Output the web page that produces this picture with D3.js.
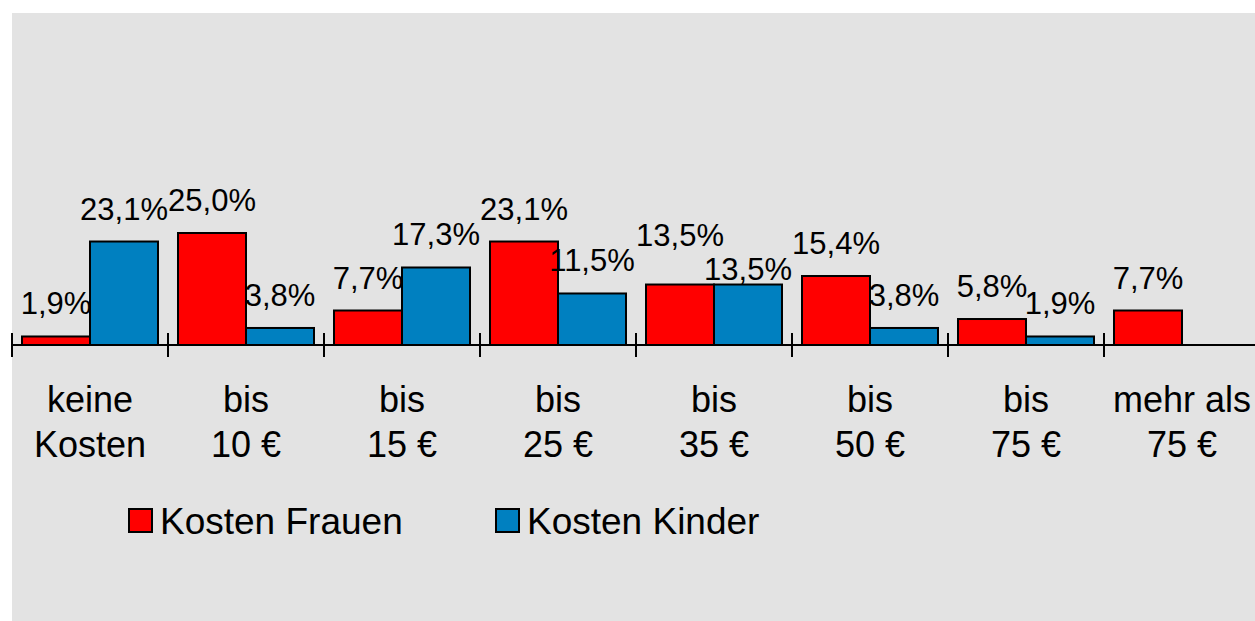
<!DOCTYPE html>
<html>
<head>
<meta charset="utf-8">
<script src="https://cdn.jsdelivr.net/npm/d3@7"></script>
<style>
  body { margin: 0; background: #fff; }
  text { font-family: "Liberation Sans", Arial, Helvetica, sans-serif; fill: #000; }
</style>
</head>
<body>
<div id="chart"></div>
<script>
// data
var categoryTop = ["keine", "bis", "bis", "bis", "bis", "bis", "bis", "mehr als"];
var categoryBottom = ["Kosten", "10 €", "15 €", "25 €", "35 €", "50 €", "75 €", "75 €"];
var kostenFrauen = [1.9, 25.0, 7.7, 23.1, 13.5, 15.4, 5.8, 7.7];
var kostenKinder = [23.1, 3.8, 17.3, 11.5, 13.5, 3.8, 1.9, null];
var seriesNames = ["Kosten Frauen", "Kosten Kinder"];
var seriesColors = ["#ff0000", "#0080c0"];

var width = 1255, height = 621;

var svg = d3.select("#chart")
  .append("svg")
  .attr("width", width)
  .attr("height", height);

// grey plot area
svg.append("rect")
  .attr("x", 12).attr("y", 13)
  .attr("width", width - 12).attr("height", height - 13)
  .attr("fill", "#e3e3e3");

var x = d3.scaleBand()
  .domain(d3.range(categoryTop.length))
  .range([12, 12 + 156 * categoryTop.length]);

var xSeries = d3.scaleBand()
  .domain([0, 1])
  .range([10, 146]);

var y = d3.scaleLinear()
  .domain([0, 25])
  .range([345, 233]);

var locale = d3.formatLocale({ decimal: ",", thousands: ".", grouping: [3], currency: ["", " €"] });
var fmt = locale.format(".1f");

// flatten into bar records
var bars = [];
kostenFrauen.forEach(function (v, i) {
  bars.push({ cat: i, s: 0, value: v });
  if (kostenKinder[i] != null) bars.push({ cat: i, s: 1, value: kostenKinder[i] });
});
bars.sort(function (a, b) { return a.cat - b.cat || a.s - b.s; });

svg.append("g")
  .selectAll("rect")
  .data(bars)
  .enter()
  .append("rect")
  .attr("x", function (d) { return x(d.cat) + xSeries(d.s); })
  .attr("y", function (d) { return y(d.value); })
  .attr("width", xSeries.bandwidth())
  .attr("height", function (d) { return y(0) - y(d.value); })
  .attr("fill", function (d) { return seriesColors[d.s]; })
  .attr("stroke", "#000")
  .attr("stroke-width", 2);

// x axis with crossing ticks
var axis = svg.append("g")
  .attr("transform", "translate(0," + y(0) + ")")
  .call(d3.axisBottom(x).tickSize(0).tickFormat(""));
axis.select(".domain").remove();
axis.append("line")
  .attr("x1", 12).attr("x2", width)
  .attr("stroke", "#000").attr("stroke-width", 2);
axis.selectAll(".tickmark")
  .data(d3.range(categoryTop.length + 1))
  .enter()
  .append("line")
  .attr("x1", function (i) { return 12 + x.step() * i; })
  .attr("x2", function (i) { return 12 + x.step() * i; })
  .attr("y1", -12).attr("y2", 12)
  .attr("stroke", "#000").attr("stroke-width", 2);

// category labels, two lines
var catLabels = svg.append("g")
  .selectAll("text")
  .data(d3.range(categoryTop.length))
  .enter()
  .append("text")
  .attr("text-anchor", "middle")
  .style("font-size", "36px");
catLabels.append("tspan")
  .attr("x", function (i) { return x(i) + x.bandwidth() / 2; })
  .attr("y", 412)
  .text(function (i) { return categoryTop[i]; });
catLabels.append("tspan")
  .attr("x", function (i) { return x(i) + x.bandwidth() / 2; })
  .attr("y", 457)
  .text(function (i) { return categoryBottom[i]; });

// value labels above bars
var labels = svg.append("g")
  .selectAll("text")
  .data(bars)
  .enter()
  .append("text")
  .attr("text-anchor", "middle")
  .style("font-size", "31px")
  .attr("x", function (d) { return x(d.cat) + xSeries(d.s) + xSeries.bandwidth() / 2; })
  .text(function (d) { return fmt(d.value) + "%"; });

// simple overlap avoidance: push colliding labels apart vertically
labels.each(function (d) {
  d.w = this.getComputedTextLength();
  d.cx = x(d.cat) + xSeries(d.s) + xSeries.bandwidth() / 2;
  d.ly = y(d.value) - 22;
});
var lab = labels.data();
for (var it = 0; it < 20; it++) {
  for (var a = 0; a < lab.length; a++) {
    for (var b = a + 1; b < lab.length; b++) {
      var p = lab[a], q = lab[b];
      var hOver = (p.w + q.w) / 2 - Math.abs(p.cx - q.cx);
      var need = 34 - Math.abs(p.ly - q.ly);
      if (hOver > 3 && need > 0) {
        var upper = p.ly <= q.ly ? p : q, lower = upper === p ? q : p;
        upper.ly -= need / 2;
        lower.ly += need / 2;
      }
    }
  }
}
labels.attr("y", function (d) { return d.ly; });

// legend
var legend = svg.append("g")
  .selectAll("g")
  .data(seriesNames)
  .enter()
  .append("g")
  .attr("transform", function (d, i) { return "translate(" + [129, 496][i] + ",509)"; });
legend.append("rect")
  .attr("width", 23).attr("height", 23)
  .attr("fill", function (d, i) { return seriesColors[i]; })
  .attr("stroke", "#000").attr("stroke-width", 2);
legend.append("text")
  .attr("x", 31).attr("y", 25)
  .style("font-size", "37px")
  .text(function (d) { return d; });
</script>
</body>
</html>
